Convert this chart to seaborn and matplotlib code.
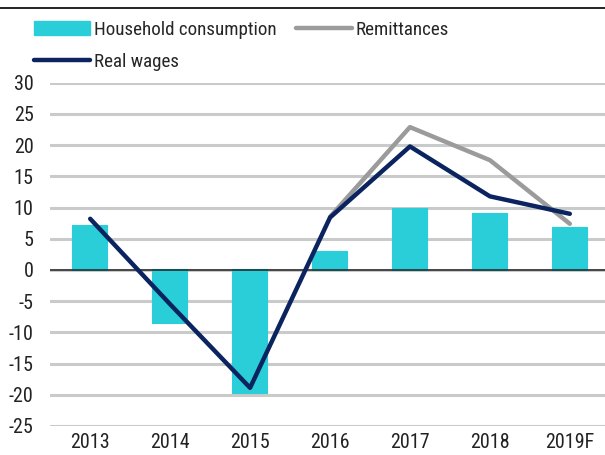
import matplotlib
matplotlib.use("Agg")
import matplotlib.pyplot as plt
import seaborn as sns
import pandas as pd
import numpy as np
from matplotlib.lines import Line2D
from matplotlib.patches import Patch

years = ["2013", "2014", "2015", "2016", "2017", "2018", "2019F"]
household = [7.0, -8.5, -19.8, 2.8, 9.7, 9.0, 6.8]
remittances = [np.nan, np.nan, np.nan, 8.5, 22.9, 17.6, 7.4]
real_wages = [8.2, -5.5, -18.9, 8.4, 19.8, 11.8, 9.0]
yticks = [-25, -20, -15, -10, -5, 0, 5, 10, 15, 20, 25, 30]

c_bar = "#29CED8"
c_rem = "#9B9B9B"
c_wage = "#0B2460"
c_grid = "#C9CBCB"

df = pd.DataFrame({"year": years, "hh": household, "rem": remittances, "wage": real_wages})

sns.set_style("white")
plt.rcParams["font.family"] = ["Roboto Condensed", "DejaVu Sans"]

fig = plt.figure(figsize=(6.05, 4.55), dpi=100)
ax = fig.add_axes([0.083, 0.064, 0.917, 0.754])

for t in yticks:
    ax.axhline(t, color=c_grid, lw=2.2, zorder=0)

sns.barplot(data=df, x="year", y="hh", order=years, color=c_bar, width=0.43,
            saturation=1, edgecolor=c_bar, linewidth=1.5, ax=ax, zorder=2)
ax.axhline(0, color="#222222", lw=1.1, zorder=3)

sns.pointplot(data=df.dropna(subset=["rem"]), x="year", y="rem", order=years, color=c_rem,
              markers="", linewidth=3.2, ax=ax, zorder=4)
sns.pointplot(data=df, x="year", y="wage", order=years, color=c_wage,
              markers="", linewidth=3.2, ax=ax, zorder=5)

ax.set_ylim(-25, 30)
ax.set_xlim(-0.5, 6.44)
ax.set_yticks(yticks)
ax.set_yticklabels([str(t) for t in yticks])
ax.set_xlabel("")
ax.set_ylabel("")
ax.tick_params(axis="both", labelsize=14.4, length=0, colors="#222222")
ax.tick_params(axis="y", pad=12)
ax.tick_params(axis="x", pad=5)
for s in ax.spines.values():
    s.set_visible(False)

handles = [Patch(facecolor=c_bar, edgecolor=c_bar),
           Line2D([], [], color=c_wage, lw=3.2),
           Line2D([], [], color=c_rem, lw=3.2)]
labels = ["Household consumption", "Real wages", "Remittances"]
fig.legend(handles, labels, ncol=2, loc="upper left", bbox_to_anchor=(34 / 605, 1 - 21 / 455),
           frameon=False, fontsize=13.7, handlelength=2.95, handleheight=0.74,
           handletextpad=0.2, columnspacing=1.0, labelspacing=0.72, borderaxespad=0,
           borderpad=0)

fig.add_artist(Line2D([0, 1], [0.983, 0.983], color="black", lw=1.2, transform=fig.transFigure))

fig.savefig("out.png", dpi=100)
